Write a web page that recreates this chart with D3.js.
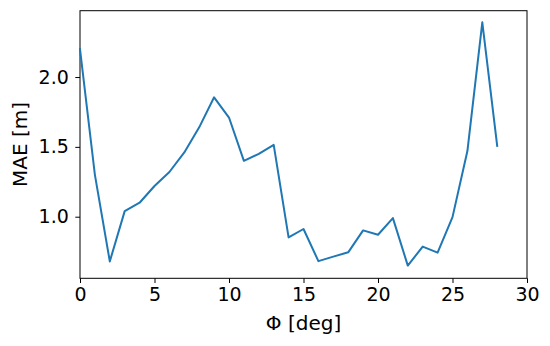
<!DOCTYPE html>
<html>
<head>
<meta charset="utf-8">
<script src="https://cdn.jsdelivr.net/npm/d3@7"></script>
<style>
  html, body { margin: 0; padding: 0; background: #fff; }
  svg { display: block; }
  text { font-family: "DejaVu Sans", sans-serif; fill: #000; }
</style>
</head>
<body>
<svg id="chart" width="550" height="346"></svg>
<script>
// Data
const phiDeg = [0,1,2,3,4,5,6,7,8,9,10,11,12,13,14,15,16,17,18,19,20,21,22,23,24,25,26,27,28];
const maeValues = [2.20, 1.30, 0.68, 1.04, 1.10, 1.22, 1.32, 1.46, 1.64, 1.855, 1.71, 1.40, 1.45, 1.514,
                   0.852, 0.912, 0.682, 0.714, 0.745, 0.902, 0.871, 0.99, 0.65, 0.786, 0.743, 0.997, 1.47, 2.392, 1.507];
const xTicks = [0, 5, 10, 15, 20, 25, 30];
const yTicks = [1.0, 1.5, 2.0];
const xLabel = "Φ [deg]";
const yLabel = "MAE [m]";

const svg = d3.select("#chart");
const W = 550, H = 346;
const plot = { left: 80, right: 527, top: 10.7, bottom: 278.3 };

svg.append("rect").attr("width", W).attr("height", H).attr("fill", "#fff");

const x = d3.scaleLinear().domain([0, 30]).range([plot.left, plot.right]);
const y = d3.scaleLinear().domain([0.559, 2.475]).range([plot.bottom, plot.top]);

const tickFont = "19px";

// X axis
const xAxis = svg.append("g")
  .attr("transform", `translate(0,${plot.bottom})`)
  .call(d3.axisBottom(x).tickValues(xTicks).tickFormat(d3.format("d")).tickSizeOuter(0).tickSize(4.7).tickPadding(5));
xAxis.select(".domain").remove();
xAxis.selectAll(".tick line").attr("stroke", "#000").attr("stroke-width", 1);
xAxis.selectAll(".tick text").style("font-size", tickFont).attr("fill", "#000")
  .attr("font-family", "DejaVu Sans");

// Y axis
const yAxis = svg.append("g")
  .attr("transform", `translate(${plot.left},0)`)
  .call(d3.axisLeft(y).tickValues(yTicks).tickFormat(d3.format(".1f")).tickSizeOuter(0).tickSize(4.7).tickPadding(6.5));
yAxis.select(".domain").remove();
yAxis.selectAll(".tick line").attr("stroke", "#000").attr("stroke-width", 1);
yAxis.selectAll(".tick text").style("font-size", tickFont).attr("fill", "#000")
  .attr("font-family", "DejaVu Sans");

// Frame (spines)
svg.append("rect")
  .attr("x", plot.left).attr("y", plot.top)
  .attr("width", plot.right - plot.left).attr("height", plot.bottom - plot.top)
  .attr("fill", "none").attr("stroke", "#000").attr("stroke-width", 1);

// Line
const line = d3.line().x((d, i) => x(phiDeg[i])).y(d => y(d));
svg.append("path")
  .datum(maeValues)
  .attr("fill", "none")
  .attr("stroke", "#1f77b4")
  .attr("stroke-width", 2)
  .attr("stroke-linejoin", "round")
  .attr("stroke-linecap", "square")
  .attr("d", line);

// Axis labels
svg.append("text")
  .attr("x", (plot.left + plot.right) / 2)
  .attr("y", 330)
  .attr("text-anchor", "middle")
  .style("font-size", "20px")
  .text(xLabel);

svg.append("text")
  .attr("transform", `translate(27,${(plot.top + plot.bottom) / 2}) rotate(-90)`)
  .attr("text-anchor", "middle")
  .style("font-size", "20px")
  .text(yLabel);
</script>
</body>
</html>
